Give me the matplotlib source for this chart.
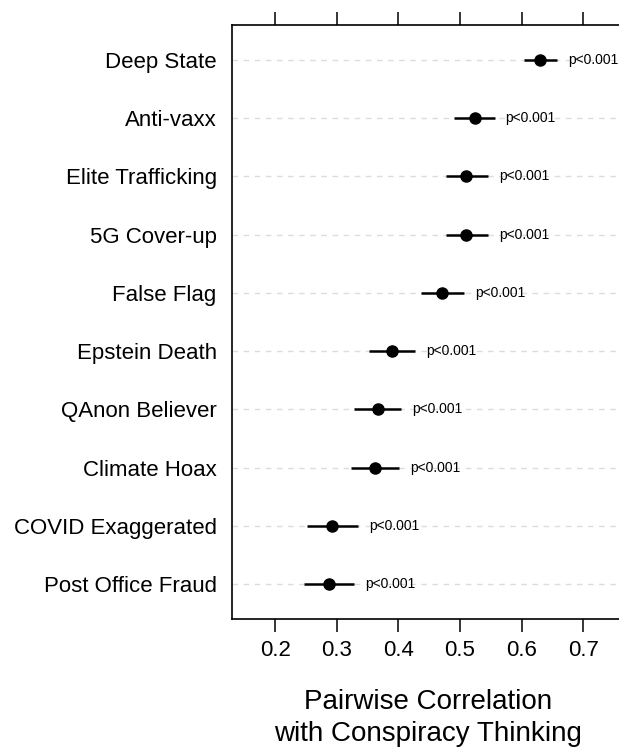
import matplotlib
matplotlib.use("Agg")
import matplotlib.pyplot as plt

plt.rcParams['font.family'] = ['Liberation Sans', 'DejaVu Sans']

# data, top to bottom
labels = ["Deep State", "Anti-vaxx", "Elite Trafficking", "5G Cover-up", "False Flag",
          "Epstein Death", "QAnon Believer", "Climate Hoax", "COVID Exaggerated",
          "Post Office Fraud"]
corr = [0.630, 0.524, 0.510, 0.510, 0.471, 0.389, 0.367, 0.362, 0.292, 0.287]
ci_low = [0.603, 0.490, 0.477, 0.477, 0.436, 0.352, 0.328, 0.323, 0.252, 0.247]
ci_high = [0.657, 0.556, 0.545, 0.545, 0.506, 0.427, 0.405, 0.401, 0.334, 0.328]
pvals = ["p<0.001"] * 10

n = len(labels)
ypos = list(range(n, 0, -1))

fig = plt.figure(figsize=(6.19, 7.48), dpi=100)
ax = fig.add_axes([232 / 619, 0.1725, (624 - 232) / 619, 0.794])

for y in ypos:
    ax.axhline(y, color="#dcdcdc", lw=1, ls=(0, (4, 4)), zorder=0)

ax.hlines(ypos, ci_low, ci_high, color="black", lw=1.8, zorder=2)
ax.plot(corr, ypos, "o", color="black", ms=8, zorder=3)

for y, hi, p in zip(ypos, ci_high, pvals):
    ax.text(hi + 0.018, y, p, fontsize=10, va="center", ha="left")

ax.set_xlim(0.130, 0.766)
ax.set_ylim(0.4, n + 0.6)
ax.set_xticks([0.2, 0.3, 0.4, 0.5, 0.6, 0.7])
ax.set_xticklabels(["0.2", "0.3", "0.4", "0.5", "0.6", "0.7"], fontsize=16)
ax.set_yticks(ypos)
ax.set_yticklabels(labels, fontsize=16)
ax.tick_params(axis="y", length=0, pad=11)
ax.tick_params(axis="x", top=True, length=9.5, width=1.1, pad=6)
ax.spines["right"].set_visible(False)
for s in ["left", "top", "bottom"]:
    ax.spines[s].set_linewidth(1.2)

ax.set_xlabel("Pairwise Correlation\nwith Conspiracy Thinking", fontsize=20,
              labelpad=20, linespacing=1.3)

fig.savefig("out.png", dpi=100)
